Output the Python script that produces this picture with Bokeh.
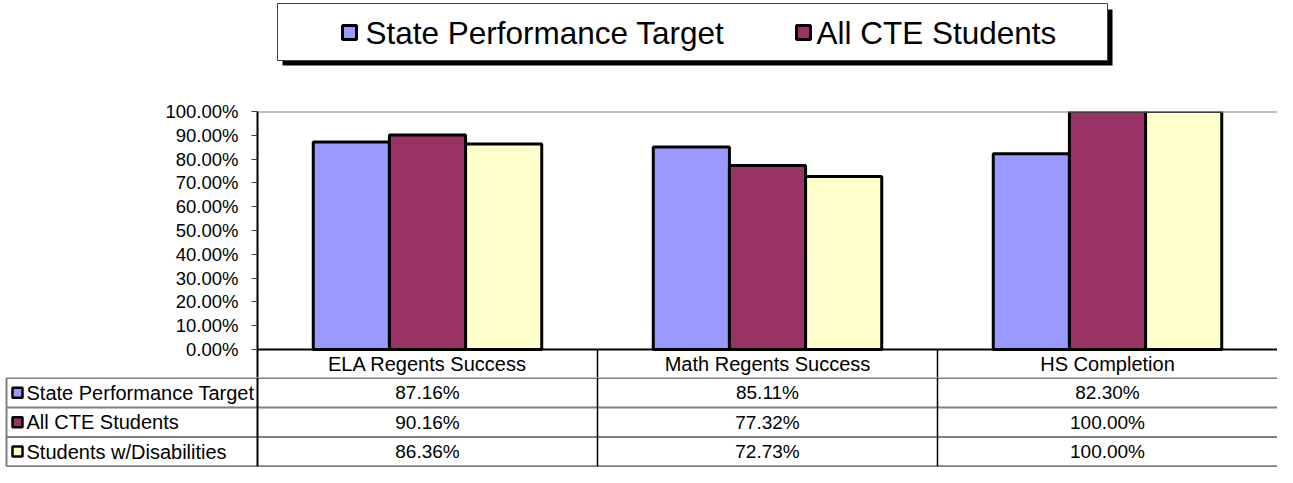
from bokeh.plotting import figure
from bokeh.layouts import column
from bokeh.models import (Range1d, FactorRange, ColumnDataSource, FixedTicker,
                          NumeralTickFormatter, Span)
from bokeh.transform import dodge
from bokeh.core.properties import value
from bokeh.embed import file_html
from bokeh.resources import INLINE

# ---------------- data ----------------
categories = ["ELA Regents Success", "Math Regents Success", "HS Completion"]
series = ["State Performance Target", "All CTE Students", "Students w/Disabilities"]
state_target = [0.8716, 0.8511, 0.8230]
all_cte = [0.9016, 0.7732, 1.0000]
students_wd = [0.8636, 0.7273, 1.0000]
colors = ["#9999FF", "#993366", "#FFFFCC"]
y_ticks = [0.0, 0.1, 0.2, 0.3, 0.4, 0.5, 0.6, 0.7, 0.8, 0.9, 1.0]
legend_series = series[:2]   # legend in the original only shows two entries

values = [state_target, all_cte, students_wd]

FONT = value("Liberation Sans")
W = 1277
LEFT = 257
CAT_PX = (W - LEFT) / 3.0
BAR_W = 0.224
PLOT_PX = 238        # height of the 0..100% area
HDR_PX = 28          # height of the category header row
Y0 = -HDR_PX / PLOT_PX

common = dict(output_backend="svg", toolbar_location=None, frame_align=False)

# ---------------- legend figure ----------------
HA = 100
pa = figure(width=W, height=HA, x_range=Range1d(0, W), y_range=Range1d(HA, 0),
            x_axis_location=None, y_axis_location=None, min_border=0, **common)
pa.outline_line_color = None
pa.grid.visible = False
pa.quad(left=[282], right=[1112], top=[9], bottom=[65], fill_color="black", line_color=None)
pa.quad(left=[277], right=[1107], top=[3], bottom=[60], fill_color="white",
        line_color="#404040", line_width=1)
leg_src = ColumnDataSource(dict(sx=[349, 803], tx=[365, 816], y=[32, 32],
                                name=legend_series, color=colors[:2]))
pa.rect(x="sx", y="y", width=14, height=14, width_units="screen", height_units="screen",
        fill_color="color", line_color="black", line_width=3, source=leg_src)
pa.text(x="tx", y="y", text="name", source=leg_src, text_font=FONT,
        text_font_size=value("31.5px"), text_baseline="middle", text_align="left",
        text_color="black")

# ---------------- chart figure (incl. category header row) ----------------
pb = figure(width=W, height=11 + PLOT_PX + HDR_PX,
            x_range=FactorRange(*categories, range_padding=0),
            y_range=Range1d(Y0, 1), x_axis_location=None,
            min_border_left=LEFT, min_border_right=0, min_border_top=11, min_border_bottom=0,
            **common)
pb.outline_line_color = None
pb.xgrid.visible = False
pb.ygrid.visible = False
ax = pb.yaxis[0]
ax.ticker = FixedTicker(ticks=y_ticks)
ax.formatter = NumeralTickFormatter(format="0.00%")
ax.major_label_text_font = "Liberation Sans"
ax.major_label_text_font_size = "18.5px"
ax.major_label_text_color = "black"
ax.major_label_standoff = 13
ax.major_tick_in = 0
ax.major_tick_out = 6
ax.minor_tick_line_color = None
ax.axis_line_color = "black"
ax.axis_line_width = 2
ax.major_tick_line_color = "#404040"
ax.major_tick_line_width = 1

src = ColumnDataSource(dict(cat=categories, s0=state_target, s1=all_cte, s2=students_wd))
for j in range(3):
    pb.vbar(x=dodge("cat", (j - 1) * BAR_W, range=pb.x_range), top="s%d" % j, bottom=0,
            width=BAR_W, source=src, fill_color=colors[j], line_color="black", line_width=3)
pb.add_layout(Span(location=1, dimension="width", line_color="#808080", line_width=2))
pb.add_layout(Span(location=0, dimension="width", line_color="black", line_width=2))

# header row: category names and dividers
hdr = ColumnDataSource(dict(cat=categories, y=[Y0 / 2] * len(categories)))
pb.text(x="cat", y="y", text="cat", source=hdr, text_font=FONT, text_font_size=value("20px"),
        text_align="center", text_baseline="middle", text_color="black")
div = ColumnDataSource(dict(cat=categories[:-1], y0=[0] * (len(categories) - 1),
                            y1=[Y0] * (len(categories) - 1)))
pb.segment(x0=dodge("cat", 0.5, range=pb.x_range), x1=dodge("cat", 0.5, range=pb.x_range),
           y0="y0", y1="y1", source=div, line_color="black", line_width=1.5)

# ---------------- data table figure ----------------
x0 = -LEFT / CAT_PX
xl = x0 + 6 / CAT_PX   # left border of the table
pc = figure(width=W, height=90, x_range=Range1d(x0, 3), y_range=Range1d(3.04, -0.02),
            x_axis_location=None, y_axis_location=None, min_border=0, **common)
pc.outline_line_color = None
pc.grid.visible = False

pc.segment(x0=[xl] * 4, x1=[3] * 4, y0=[0, 1, 2, 3], y1=[0, 1, 2, 3],
           line_color="#808080", line_width=2)
pc.segment(x0=[xl], x1=[xl], y0=[0], y1=[3], line_color="#808080", line_width=2)
pc.segment(x0=[0, 1, 2], x1=[0, 1, 2], y0=[-0.02] * 3, y1=[3] * 3,
           line_color="black", line_width=[2, 1.5, 1.5])

# cells
cx, cy, ct = [], [], []
for r, vals in enumerate(values):
    for i, v in enumerate(vals):
        cx.append(i + 0.5)
        cy.append(r + 0.5)
        ct.append("%.2f%%" % (v * 100))
cells = ColumnDataSource(dict(x=cx, y=cy, t=ct))
pc.text(x="x", y="y", text="t", source=cells, text_font=FONT, text_font_size=value("19px"),
        text_align="center", text_baseline="middle", text_color="black")

# row labels with keys
rl = ColumnDataSource(dict(sx=[x0 + 17 / CAT_PX] * 3, tx=[x0 + 26 / CAT_PX] * 3,
                           y=[r + 0.5 for r in range(3)], t=series, color=colors))
pc.rect(x="sx", y="y", width=10, height=10, width_units="screen", height_units="screen",
        fill_color="color", line_color="black", line_width=2.5, source=rl)
pc.text(x="tx", y="y", text="t", source=rl, text_font=FONT, text_font_size=value("20px"),
        text_align="left", text_baseline="middle", text_color="black")

layout = column(pa, pb, pc, spacing=0)
open("out.html", "w").write(file_html(layout, INLINE, title="chart"))
